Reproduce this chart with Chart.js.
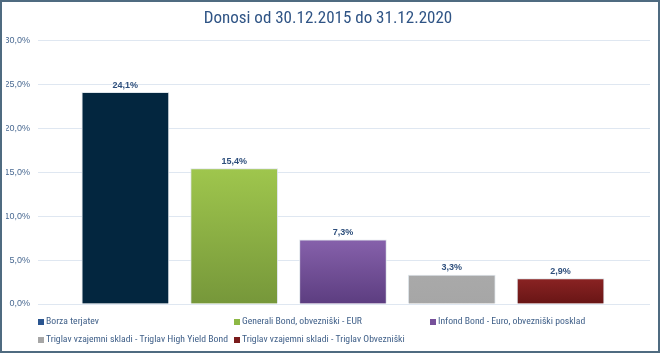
<!DOCTYPE html>
<html>
<head>
<meta charset="utf-8">
<script src="https://cdn.jsdelivr.net/npm/chart.js@4/dist/chart.umd.min.js"></script>
<style>
  html, body { margin: 0; padding: 0; background: #fff; }
  #wrap { position: relative; width: 656px; height: 349px; border: 2px solid #4f6b80; }
</style>
</head>
<body>
<div id="wrap"><canvas id="chart" width="656" height="349"></canvas></div>
<script>
const categories = [
  'Borza terjatev',
  'Generali Bond, obvezniški - EUR',
  'Infond Bond - Euro, obvezniški posklad',
  'Triglav vzajemni skladi - Triglav High Yield Bond',
  'Triglav vzajemni skladi - Triglav Obvezniški'
];
const returns = [24.1, 15.4, 7.3, 3.3, 2.9];
const yTicks = [0, 5, 10, 15, 20, 25, 30];
// top / bottom shade for each bar
const topColors = ['#03263f', '#9fc64d', '#8661ab', '#a9a9a9', '#8a2323'];
const bottomColors = ['#03263f', '#76973a', '#5c3d80', '#a6a6a6', '#681515'];
const legendColors = ['#2a5590', '#8db845', '#76509a', '#a6a6a6', '#7a1c1c'];

const fmt = v => v.toFixed(1).replace('.', ',') + '%';
const narrow = '"Liberation Sans Narrow", "Roboto Condensed", Roboto, sans-serif';

function barFill(context) {
  const chart = context.chart;
  const i = context.dataIndex;
  const y = chart.scales.y;
  if (!chart.chartArea || !y || i === undefined) return topColors[i] || '#999';
  const top = y.getPixelForValue(returns[i]);
  const base = y.getPixelForValue(0);
  const g = chart.ctx.createLinearGradient(0, top, 0, base);
  g.addColorStop(0, topColors[i]);
  g.addColorStop(1, bottomColors[i]);
  return g;
}

const valueLabels = {
  id: 'valueLabels',
  afterDatasetsDraw(chart) {
    const ctx = chart.ctx;
    const meta = chart.getDatasetMeta(0);
    ctx.save();
    ctx.font = 'bold 9px "Liberation Sans", Arial, sans-serif';
    ctx.fillStyle = '#2e4f7c';
    ctx.textAlign = 'center';
    ctx.textBaseline = 'middle';
    meta.data.forEach((bar, i) => {
      ctx.fillText(fmt(returns[i]), bar.x, bar.y - 7);
    });
    ctx.restore();
  }
};

// Excel-style legend: equal-width columns, 3 per row
const gridLegend = {
  id: 'gridLegend',
  afterDraw(chart) {
    const ctx = chart.ctx;
    const colW = 196, rowH = 18, x0 = 36, y0 = 320;
    ctx.save();
    ctx.font = '9.7px ' + narrow;
    ctx.textBaseline = 'middle';
    categories.forEach((name, i) => {
      const x = x0 + (i % 3) * colW;
      const y = y0 + Math.floor(i / 3) * rowH;
      ctx.fillStyle = legendColors[i];
      ctx.fillRect(x, y - 3, 6, 6);
      ctx.fillStyle = '#3f5f88';
      ctx.fillText(name, x + 8, y);
    });
    ctx.restore();
  }
};

new Chart(document.getElementById('chart'), {
  type: 'bar',
  data: {
    datasets: [{
      data: returns.map((v, i) => ({ x: i, y: v })),
      backgroundColor: barFill,
      borderColor: 'rgba(220,226,232,0.9)',
      borderWidth: 1,
      barThickness: 87
    }]
  },
  options: {
    responsive: false,
    animation: false,
    layout: { padding: { left: 4, right: 8, top: 0, bottom: 47 } },
    plugins: {
      legend: { display: false },
      tooltip: { enabled: false },
      title: {
        display: true,
        text: 'Donosi od 30.12.2015 do 31.12.2020',
        color: '#2f5485',
        font: { family: narrow, size: 17, weight: 'normal' },
        padding: { top: 7, bottom: 11 }
      }
    },
    scales: {
      x: {
        type: 'linear',
        min: -0.803,
        max: 4.822,
        offset: false,
        display: false
      },
      y: {
        min: 0,
        max: 30,
        afterBuildTicks: axis => { axis.ticks = yTicks.map(v => ({ value: v })); },
        afterFit: axis => { axis.width = 32; },
        ticks: {
          callback: v => fmt(v),
          color: '#4a6a92',
          font: { family: '"Liberation Sans", Arial, sans-serif', size: 9 },
          padding: 8
        },
        grid: { color: '#dfe7f1', drawTicks: false },
        border: { display: false }
      }
    }
  },
  plugins: [valueLabels, gridLegend]
});
</script>
</body>
</html>
